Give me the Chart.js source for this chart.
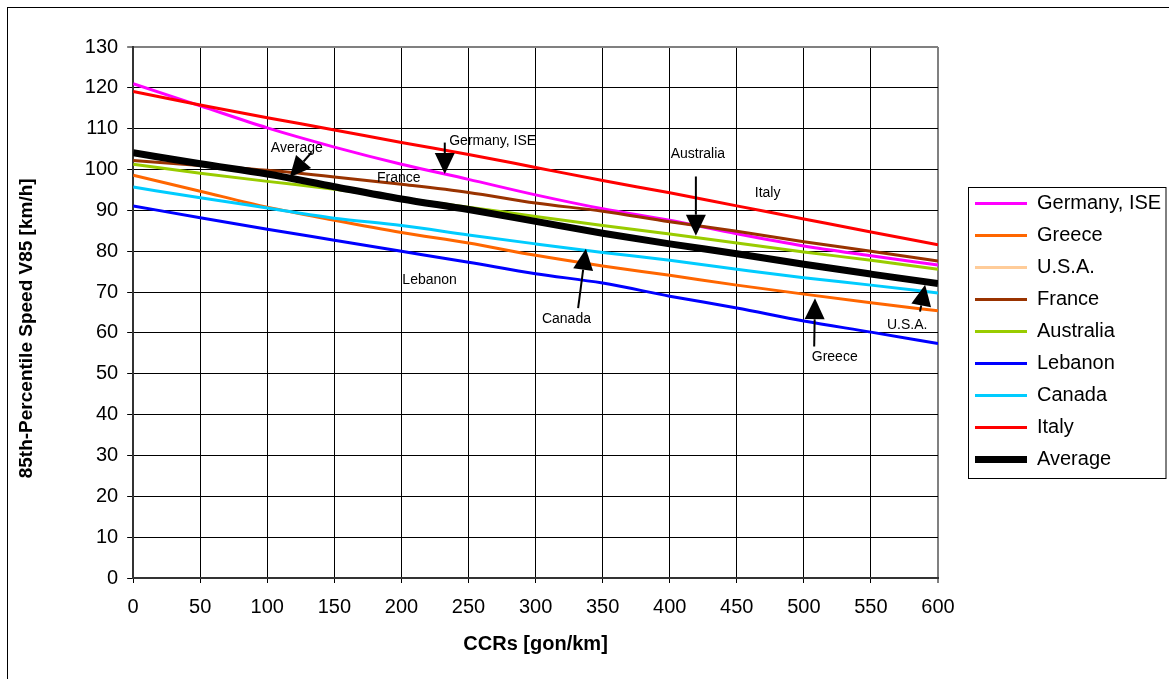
<!DOCTYPE html>
<html>
<head>
<meta charset="utf-8">
<title>V85 vs CCRs</title>
<script src="https://cdn.jsdelivr.net/npm/chart.js@4.4.1/dist/chart.umd.min.js"></script>
<style>
  html, body { margin: 0; padding: 0; background: #fff; overflow: hidden; }
  #wrap { position: relative; width: 1169px; height: 679px; }
  #frame { position: absolute; left: 7px; top: 7px; width: 1200px; height: 700px;
           border: 1px solid #000; pointer-events: none; }
</style>
</head>
<body>
<div id="wrap">
  <canvas id="speedChart"></canvas>
  <div id="frame"></div>
</div>
<script>
// CCRs [gon/km]
var ccr = [0, 50, 100, 150, 200, 250, 300, 350, 400, 450, 500, 550, 600];

// 85th-percentile speed V85 [km/h]
var germanyV85   = [121.0, 115.6, 110.2, 105.5, 101.3, 97.6, 93.8, 90.4, 87.6, 84.3, 81.3, 78.9, 76.6];
var greeceV85    = [98.6, 94.7, 90.8, 87.6, 84.6, 82.0, 79.0, 76.4, 74.1, 71.7, 69.5, 67.4, 65.4];
var usaV85       = []; // only in the legend, no line visible
var franceV85    = [102.2, 101.0, 99.8, 98.2, 96.4, 94.4, 91.8, 89.8, 87.2, 84.9, 82.3, 80.0, 77.6];
var australiaV85 = [101.3, 99.1, 97.1, 95.2, 93.0, 90.8, 88.5, 86.3, 84.2, 82.0, 79.8, 77.8, 75.6];
var lebanonV85   = [91.1, 88.2, 85.4, 82.7, 80.0, 77.3, 74.5, 72.2, 69.0, 66.1, 62.9, 60.2, 57.4];
var canadaV85    = [95.7, 93.1, 90.6, 88.1, 86.3, 84.0, 81.8, 79.7, 77.8, 75.6, 73.5, 71.7, 69.8];
var italyV85     = [119.1, 115.8, 112.7, 109.7, 106.6, 103.7, 100.5, 97.3, 94.3, 91.1, 87.9, 84.7, 81.6];
var averageV85   = [104.1, 101.4, 98.9, 95.8, 92.8, 90.2, 87.3, 84.4, 81.8, 79.4, 76.8, 74.4, 72.1];

var yTicks = [0, 10, 20, 30, 40, 50, 60, 70, 80, 90, 100, 110, 120, 130];

// text labels in the plot (chart units)
var noteText = ['Average', 'Germany, ISE', 'France', 'Lebanon', 'Australia', 'Italy', 'Canada', 'Greece', 'U.S.A.'];
var noteCcr  = [122, 268, 198, 221, 421, 473, 323, 523, 577];
var noteV85  = [105.3, 106.9, 97.9, 73.0, 103.8, 94.3, 63.4, 54.0, 62.0];

// arrows: tail -> head (chart units)
var arrowFromCcr = [133, 232.3, 419.5, 331.7, 507.7, 586.6];
var arrowFromV85 = [104.2, 106.6, 98.3, 66.1, 56.7, 65.2];
var arrowToCcr   = [116.7, 232.3, 419.5, 337.5, 508.3, 590.4];
var arrowToV85   = [98.1, 98.9, 83.8, 80.6, 68.5, 71.8];

var fontFamily = '"Liberation Sans", Arial, sans-serif';

function toPoints(values) {
  return values.map(function (v, i) { return { x: ccr[i], y: v }; });
}

var series = [
  { label: 'Germany, ISE', values: germanyV85,   color: '#FF00FF', width: 3 },
  { label: 'Greece',       values: greeceV85,    color: '#FF6600', width: 3 },
  { label: 'U.S.A.',       values: usaV85,       color: '#FFCC99', width: 3 },
  { label: 'France',       values: franceV85,    color: '#993300', width: 3 },
  { label: 'Australia',    values: australiaV85, color: '#99CC00', width: 3 },
  { label: 'Lebanon',      values: lebanonV85,   color: '#0000FF', width: 3 },
  { label: 'Canada',       values: canadaV85,    color: '#00CCFF', width: 3 },
  { label: 'Italy',        values: italyV85,     color: '#FF0000', width: 3 },
  { label: 'Average',      values: averageV85,   color: '#000000', width: 7 }
];

var datasets = series.map(function (s, i) {
  return {
    label: s.label,
    data: toPoints(s.values),
    borderColor: s.color,
    backgroundColor: s.color,
    borderWidth: s.width,
    pointRadius: 0,
    pointHoverRadius: 0,
    pointStyle: 'line',
    fill: false,
    cubicInterpolationMode: 'monotone',
    order: series.length - 1 - i   // later series on top, like the original
  };
});

// arrows and free text
var notesPlugin = {
  id: 'notes',
  afterDatasetsDraw: function (chart) {
    var ctx = chart.ctx, xs = chart.scales.x, ys = chart.scales.y;
    ctx.save();
    ctx.fillStyle = '#000';
    ctx.font = '14px ' + fontFamily;
    ctx.textAlign = 'center';
    ctx.textBaseline = 'middle';
    noteText.forEach(function (t, i) {
      ctx.fillText(t, xs.getPixelForValue(noteCcr[i]), ys.getPixelForValue(noteV85[i]));
    });

    ctx.strokeStyle = '#000';
    ctx.lineWidth = 2;
    var headLen = 21, headHalf = 10;
    arrowFromCcr.forEach(function (c, i) {
      var x0 = xs.getPixelForValue(c), y0 = ys.getPixelForValue(arrowFromV85[i]);
      var x1 = xs.getPixelForValue(arrowToCcr[i]), y1 = ys.getPixelForValue(arrowToV85[i]);
      var a = Math.atan2(y1 - y0, x1 - x0);
      var bx = x1 - headLen * Math.cos(a), by = y1 - headLen * Math.sin(a);
      ctx.beginPath();
      ctx.moveTo(x0, y0);
      ctx.lineTo(bx, by);
      ctx.stroke();
      ctx.beginPath();
      ctx.moveTo(x1, y1);
      ctx.lineTo(bx + headHalf * Math.sin(a), by - headHalf * Math.cos(a));
      ctx.lineTo(bx - headHalf * Math.sin(a), by + headHalf * Math.cos(a));
      ctx.closePath();
      ctx.fill();
    });
    ctx.restore();
  }
};

// frame around the legend
var legendFrame = {
  id: 'legendFrame',
  afterDraw: function (chart) {
    var boxes = chart.legend.legendHitBoxes;
    if (!boxes || !boxes.length) return;
    var first = boxes[0], last = boxes[boxes.length - 1];
    var ctx = chart.ctx;
    var left = Math.round(first.left - 7) + 0.5;
    var top = Math.round(first.top - 7) + 0.5;
    var bottom = Math.round(last.top + last.height + 8) + 0.5;
    ctx.save();
    ctx.strokeStyle = '#000';
    ctx.lineWidth = 1;
    ctx.strokeRect(left, top, chart.width - 3 - left, bottom - top);
    ctx.restore();
  }
};

var ctx = document.getElementById('speedChart');

new Chart(ctx, {
  type: 'line',
  data: { datasets: datasets },
  plugins: [notesPlugin, legendFrame],
  options: {
    responsive: true,
    maintainAspectRatio: false,
    animation: false,
    events: [],
    layout: { padding: { left: 0, right: 0, top: 0, bottom: 16 } },
    scales: {
      x: {
        type: 'linear',
        min: 0,
        max: 600,
        ticks: {
          stepSize: 50,
          padding: 12,
          color: '#000',
          font: { family: fontFamily, size: 20 }
        },
        grid: {
          color: function (c) { return c.tick && c.tick.value === 600 ? '#808080' : '#000'; },
          lineWidth: function (c) { return c.tick && c.tick.value === 600 ? 2 : 1; },
          tickLength: 5,
          tickColor: '#000',
          tickWidth: 1
        },
        border: { color: '#333', width: 2 },
        title: {
          display: true,
          text: 'CCRs [gon/km]',
          color: '#000',
          font: { family: fontFamily, size: 20, weight: 'bold' },
          padding: { top: 1, bottom: 7 }
        }
      },
      y: {
        min: 0,
        max: 130,
        afterBuildTicks: function (scale) {
          scale.ticks = yTicks.map(function (v) { return { value: v }; });
        },
        ticks: {
          padding: 9,
          color: '#000',
          font: { family: fontFamily, size: 20 }
        },
        grid: {
          color: function (c) { return c.tick && c.tick.value === 130 ? '#808080' : '#000'; },
          lineWidth: function (c) { return c.tick && c.tick.value === 130 ? 2 : 1; },
          tickLength: 6,
          tickColor: '#000',
          tickWidth: 1
        },
        border: { color: '#333', width: 2 },
        title: {
          display: true,
          // trailing spaces push the text a little lower, as in the original
          text: '85th-Percentile Speed V85 [km/h]      ',
          color: '#000',
          font: { family: fontFamily, size: 19, weight: 'bold' },
          padding: { top: 15, bottom: 38 }
        }
      },
      gap: {
        type: 'linear',
        axis: 'y',
        position: 'right',
        display: true,
        grid: { display: false },
        border: { display: false },
        ticks: { display: false },
        afterFit: function (scale) { scale.width = 25; }
      }
    },
    plugins: {
      title: {
        display: true,
        text: ' ',
        font: { size: 10 },
        padding: { top: 0, bottom: 35 }
      },
      legend: {
        position: 'right',
        maxWidth: 206,
        labels: {
          usePointStyle: true,
          pointStyle: 'line',
          pointStyleWidth: 52,
          padding: 12,
          color: '#000',
          font: { family: fontFamily, size: 20 },
          sort: function (a, b) { return a.datasetIndex - b.datasetIndex; }
        }
      },
      tooltip: { enabled: false }
    }
  }
});
</script>
</body>
</html>
